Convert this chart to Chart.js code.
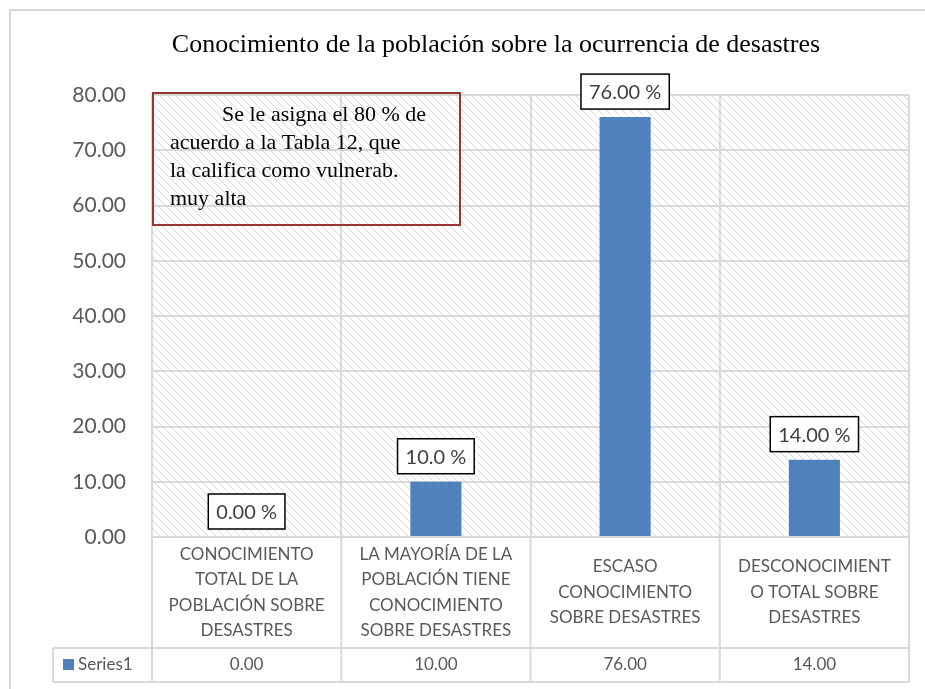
<!DOCTYPE html>
<html>
<head>
<meta charset="utf-8">
<script src="https://cdn.jsdelivr.net/npm/chart.js@4/dist/chart.umd.min.js"></script>
<style>
  html, body { margin: 0; padding: 0; background: #fff; }
  #wrap { position: relative; width: 925px; height: 689px; }
</style>
</head>
<body>
<div id="wrap"><canvas id="chart" width="925" height="689"></canvas></div>
<script>
"use strict"

// chart data
const title = 'Conocimiento de la población sobre la ocurrencia de desastres';
const categories = [
  ['CONOCIMIENTO', 'TOTAL DE LA', 'POBLACIÓN SOBRE', 'DESASTRES'],
  ['LA MAYORÍA DE LA', 'POBLACIÓN TIENE', 'CONOCIMIENTO', 'SOBRE DESASTRES'],
  ['ESCASO', 'CONOCIMIENTO', 'SOBRE DESASTRES'],
  ['DESCONOCIMIENT', 'O TOTAL SOBRE', 'DESASTRES']
];
const seriesName = 'Series1';
const series1 = [0, 10, 76, 14];
const barLabels = ['0.00 %', '10.0 %', '76.00 %', '14.00 %'];
const yMin = 0, yMax = 80, yStep = 10;
const note = ['Se le asigna el 80 % de', 'acuerdo a la Tabla 12, que', 'la califica como vulnerab.', 'muy alta'];

const BLUE = '#4F81BD';
const GRID = '#d9d9d9';
const TXT = '#595959';
const SANS = 'Lato, "Open Sans", sans-serif';
const SERIF = '"Liberation Serif", "DejaVu Serif", serif';

// light downward diagonal hatch, like the excel pattern fill
function makeHatch() {
  let c = document.createElement('canvas');
  c.width = 8; c.height = 8;
  let g = c.getContext('2d');
  g.fillStyle = '#ffffff';
  g.fillRect(0, 0, 8, 8);
  g.fillStyle = '#d6d6d6';
  for (let i = 0; i < 8; i++) {
    g.fillRect(i, i, 1, 1);
  }
  return g.createPattern(c, 'repeat');
}

const extras = {
  id: 'extras',
  beforeDraw(chart) {
    let ctx = chart.ctx;
    let a = chart.chartArea;
    ctx.save();
    ctx.fillStyle = '#fff';
    ctx.fillRect(0, 0, chart.width, chart.height);
    // outer frame
    ctx.strokeStyle = GRID;
    ctx.lineWidth = 2;
    ctx.strokeRect(10, 10, chart.width + 10, chart.height + 10);
    // hatched plot area
    ctx.fillStyle = makeHatch();
    ctx.fillRect(a.left, a.top, a.right - a.left, a.bottom - a.top);
    ctx.restore();
  },
  afterDatasetsDraw(chart) {
    let ctx = chart.ctx;
    let a = chart.chartArea;
    let x = chart.scales.x;
    let meta = chart.getDatasetMeta(0);
    let rowTop = 648, rowBottom = 682, tableLeft = 53;
    let step = (a.right - a.left) / categories.length;

    ctx.save();
    // title
    ctx.fillStyle = '#000';
    ctx.font = '26px ' + SERIF;
    ctx.textAlign = 'center';
    ctx.textBaseline = 'middle';
    ctx.fillText(title, 496, 45);

    // data table lines
    ctx.strokeStyle = GRID;
    ctx.lineWidth = 2;
    ctx.beginPath();
    ctx.moveTo(a.left, a.bottom); ctx.lineTo(a.right, a.bottom);
    ctx.moveTo(tableLeft, rowTop); ctx.lineTo(a.right, rowTop);
    ctx.moveTo(tableLeft, rowBottom); ctx.lineTo(a.right, rowBottom);
    ctx.moveTo(tableLeft, rowTop); ctx.lineTo(tableLeft, rowBottom);
    for (let i = 0; i <= categories.length; i++) {
      let xx = a.left + i * step;
      ctx.moveTo(xx, a.bottom); ctx.lineTo(xx, rowBottom);
    }
    ctx.stroke();

    // category labels
    ctx.fillStyle = TXT;
    ctx.font = '17px ' + SANS;
    let mid = (a.bottom + rowTop) / 2;
    categories.forEach((lines, i) => {
      let cx = x.getPixelForValue(i);
      let lh = 25.5;
      let y0 = mid - (lines.length - 1) * lh / 2;
      lines.forEach((ln, j) => ctx.fillText(ln, cx, y0 + j * lh));
    });

    // series row
    let ry = (rowTop + rowBottom) / 2;
    ctx.fillStyle = BLUE;
    ctx.fillRect(63, ry - 6, 11, 11);
    ctx.fillStyle = TXT;
    ctx.textAlign = 'left';
    ctx.fillText(seriesName, 78, ry);
    ctx.textAlign = 'center';
    series1.forEach((v, i) => ctx.fillText(v.toFixed(2), x.getPixelForValue(i), ry));

    // bar value labels in boxes
    ctx.font = '20px ' + SANS;
    meta.data.forEach((bar, i) => {
      let t = barLabels[i];
      let w = ctx.measureText(t).width + 16;
      let h = 35;
      let bottom = bar.y - 8;
      ctx.fillStyle = '#fff';
      ctx.fillRect(bar.x - w / 2, bottom - h, w, h);
      ctx.strokeStyle = '#000';
      ctx.lineWidth = 1.5;
      ctx.strokeRect(bar.x - w / 2, bottom - h, w, h);
      ctx.fillStyle = '#404040';
      ctx.fillText(t, bar.x, bottom - h / 2 + 1);
    });

    // note text box
    ctx.strokeStyle = '#953735';
    ctx.lineWidth = 2;
    ctx.strokeRect(153, 93, 307, 132);
    ctx.fillStyle = '#000';
    ctx.font = '22px ' + SERIF;
    ctx.textAlign = 'left';
    note.forEach((ln, j) => ctx.fillText(ln, j == 0 ? 222 : 170, 115 + j * 28));
    ctx.restore();
  }
};

let ctx = document.getElementById('chart').getContext('2d');
let chart = new Chart(ctx, {
  type: 'bar',
  data: {
    labels: categories,
    datasets: [{
      label: seriesName,
      data: series1,
      backgroundColor: BLUE,
      categoryPercentage: 1,
      barPercentage: 0.27
    }]
  },
  options: {
    responsive: false,
    animation: false,
    layout: { padding: { top: 95, right: 16, bottom: 0, left: 0 } },
    plugins: {
      legend: { display: false },
      title: { display: false },
      tooltip: { enabled: false }
    },
    scales: {
      x: {
        grid: { offset: true, color: GRID, lineWidth: 2, drawTicks: false },
        border: { display: false },
        ticks: { display: false },
        afterFit(scale) { scale.height = 152; }
      },
      y: {
        min: yMin,
        max: yMax,
        grid: { color: GRID, lineWidth: 2, drawTicks: false },
        border: { display: false },
        ticks: {
          stepSize: yStep,
          padding: 26,
          color: TXT,
          font: { family: SANS, size: 21 },
          callback: v => v.toFixed(2)
        },
        afterFit(scale) { scale.width = 152; }
      }
    }
  },
  plugins: [extras]
});
</script>
</body>
</html>
